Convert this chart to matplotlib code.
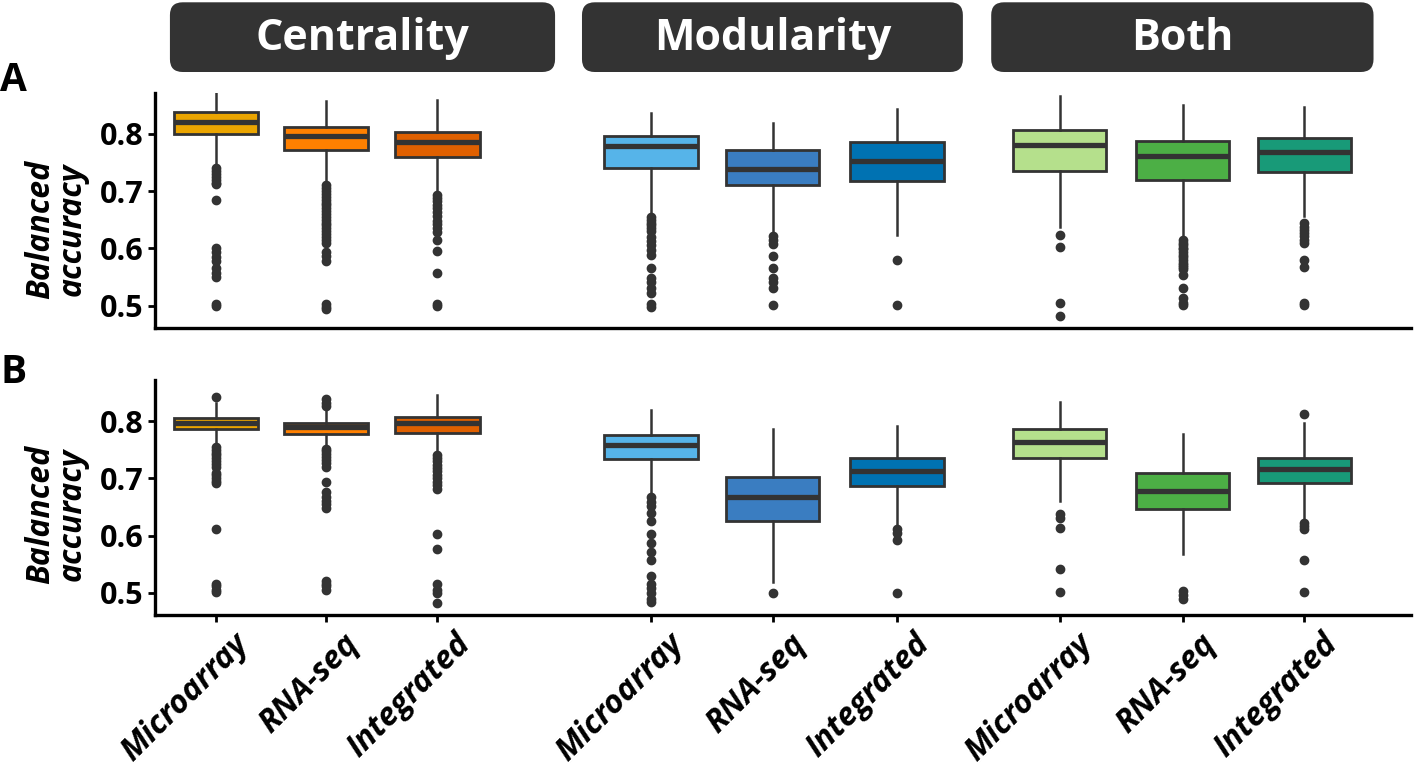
import matplotlib
matplotlib.use("Agg")
import matplotlib.pyplot as plt
from matplotlib.patches import FancyBboxPatch
from matplotlib.transforms import ScaledTranslation

plt.rcParams['font.family'] = ['Open Sans', 'DejaVu Sans']

groups = ["Centrality", "Modularity", "Both"]
platforms = ["Microarray", "RNA-seq", "Integrated"]
colors = ["#EBA500", "#FF8000", "#E06000",
          "#56B4E9", "#3A7DC1", "#0072B2",
          "#B5E08C", "#4CAF45", "#189A78"]

# panel A box stats
a_med = [0.820, 0.797, 0.786, 0.779, 0.738, 0.753, 0.780, 0.762, 0.769]
a_q1 = [0.800, 0.771, 0.760, 0.740, 0.711, 0.718, 0.736, 0.720, 0.733]
a_q3 = [0.839, 0.812, 0.804, 0.796, 0.772, 0.785, 0.807, 0.787, 0.792]
a_lo = [0.743, 0.712, 0.699, 0.662, 0.627, 0.623, 0.638, 0.621, 0.656]
a_hi = [0.872, 0.858, 0.860, 0.836, 0.819, 0.843, 0.867, 0.851, 0.847]
a_fliers = [
    [0.740, 0.735, 0.730, 0.725, 0.720, 0.715, 0.712, 0.684, 0.601, 0.593,
     0.585, 0.577, 0.566, 0.556, 0.549, 0.502, 0.500],
    [0.710, 0.705, 0.700, 0.695, 0.690, 0.685, 0.680, 0.675, 0.670, 0.665,
     0.660, 0.655, 0.650, 0.645, 0.640, 0.635, 0.630, 0.625, 0.620, 0.615,
     0.610, 0.593, 0.586, 0.578, 0.503, 0.498, 0.494],
    [0.694, 0.688, 0.682, 0.676, 0.670, 0.664, 0.656, 0.648, 0.642, 0.636,
     0.628, 0.615, 0.596, 0.557, 0.502, 0.499],
    [0.655, 0.650, 0.645, 0.640, 0.635, 0.630, 0.620, 0.613, 0.605, 0.597,
     0.588, 0.566, 0.548, 0.541, 0.530, 0.522, 0.502, 0.497],
    [0.622, 0.615, 0.608, 0.586, 0.566, 0.548, 0.542, 0.531, 0.501],
    [0.580, 0.501],
    [0.624, 0.603, 0.504, 0.482],
    [0.615, 0.610, 0.606, 0.600, 0.598, 0.593, 0.589, 0.584, 0.580, 0.575,
     0.571, 0.567, 0.563, 0.554, 0.531, 0.513, 0.505, 0.501],
    [0.644, 0.638, 0.632, 0.627, 0.621, 0.615, 0.609, 0.580, 0.568, 0.505,
     0.501],
]

# panel B box stats
b_med = [0.797, 0.789, 0.797, 0.759, 0.667, 0.713, 0.764, 0.678, 0.716]
b_q1 = [0.786, 0.777, 0.780, 0.733, 0.625, 0.687, 0.735, 0.646, 0.691]
b_q3 = [0.806, 0.797, 0.808, 0.776, 0.702, 0.735, 0.786, 0.710, 0.736]
b_lo = [0.758, 0.754, 0.743, 0.671, 0.519, 0.615, 0.661, 0.567, 0.627]
b_hi = [0.831, 0.822, 0.845, 0.819, 0.787, 0.792, 0.834, 0.777, 0.796]
b_fliers = [
    [0.843, 0.755, 0.750, 0.745, 0.740, 0.735, 0.730, 0.725, 0.720, 0.710,
     0.705, 0.700, 0.695, 0.691, 0.611, 0.516, 0.511, 0.505, 0.501],
    [0.838, 0.832, 0.826, 0.752, 0.747, 0.742, 0.737, 0.732, 0.727, 0.720,
     0.694, 0.676, 0.667, 0.661, 0.655, 0.648, 0.521, 0.516, 0.511, 0.505],
    [0.740, 0.735, 0.730, 0.724, 0.718, 0.712, 0.706, 0.700, 0.694, 0.688,
     0.682, 0.602, 0.577, 0.516, 0.505, 0.499, 0.482],
    [0.667, 0.659, 0.651, 0.640, 0.626, 0.602, 0.587, 0.572, 0.557, 0.529,
     0.516, 0.508, 0.499, 0.490, 0.484],
    [0.499],
    [0.612, 0.604, 0.592, 0.499],
    [0.637, 0.630, 0.614, 0.541, 0.501],
    [0.503, 0.496, 0.490],
    [0.813, 0.622, 0.617, 0.611, 0.557, 0.501],
]

# layout
box_pos = [0.0, 0.94, 1.89, 3.71, 4.75, 5.81, 7.2, 8.25, 9.29]
box_w = [0.72, 0.72, 0.72, 0.8, 0.8, 0.8, 0.8, 0.8, 0.8]

fig = plt.figure(figsize=(14.16, 7.66), dpi=100)
ax_a = fig.add_axes([0.1095, 0.572, 0.887, 0.307])
ax_b = fig.add_axes([0.1095, 0.197, 0.887, 0.307])

dark = "#333333"


def draw(ax, med, q1, q3, lo, hi, fl):
    stats = []
    for i in range(len(med)):
        stats.append(dict(med=med[i], q1=q1[i], q3=q3[i], whislo=lo[i],
                          whishi=hi[i], fliers=fl[i]))
    res = ax.bxp(stats, positions=box_pos, widths=box_w, patch_artist=True,
                 showcaps=False,
                 boxprops=dict(edgecolor=dark, linewidth=2.0),
                 medianprops=dict(color=dark, linewidth=3.8),
                 whiskerprops=dict(color=dark, linewidth=1.8),
                 flierprops=dict(marker='o', markersize=6, markerfacecolor=dark,
                                 markeredgecolor=dark))
    for patch, c in zip(res['boxes'], colors):
        patch.set_facecolor(c)
    ax.set_ylim(0.461, 0.872)
    ax.set_xlim(-0.52, 10.2)
    ax.set_yticks([0.5, 0.6, 0.7, 0.8])
    ax.set_yticklabels(["0.5", "0.6", "0.7", "0.8"], fontsize=22,
                       fontweight='bold')
    for s in ['top', 'right']:
        ax.spines[s].set_visible(False)
    for s in ['left', 'bottom']:
        ax.spines[s].set_linewidth(2.4)
    ax.tick_params(axis='y', length=5, width=2, pad=3)


draw(ax_a, a_med, a_q1, a_q3, a_lo, a_hi, a_fliers)
draw(ax_b, b_med, b_q1, b_q3, b_lo, b_hi, b_fliers)

ax_a.tick_params(axis='x', bottom=False, labelbottom=False)
ax_b.set_xticks(box_pos)
ax_b.set_xticklabels(platforms * 3, rotation=45, ha='right', va='top',
                     rotation_mode='anchor', fontsize=23, fontweight='bold',
                     fontstyle='italic')
ax_b.tick_params(axis='x', length=5, width=2, pad=4)
shift = ScaledTranslation(0.16, 0.0, fig.dpi_scale_trans)
for lab in ax_b.get_xticklabels():
    lab.set_transform(lab.get_transform() + shift)

# y labels
for yc in [0.70, 0.328]:
    fig.text(0.040, yc, "Balanced\naccuracy", rotation=90, ha='center',
             va='center', fontsize=23, fontweight='bold', fontstyle='italic',
             linespacing=0.95)

# panel letters
fig.text(0.0, 0.895, "A", fontsize=28, fontweight='bold', va='center')
fig.text(0.0, 0.514, "B", fontsize=28, fontweight='bold', va='center')

# header strips
head_x = [(0.120, 0.392), (0.411, 0.680), (0.700, 0.970)]
for name, (x0, x1) in zip(groups, head_x):
    p = FancyBboxPatch((x0, 0.906), x1 - x0, 0.091,
                       boxstyle="round,pad=0,rounding_size=0.009",
                       transform=fig.transFigure, facecolor=dark,
                       edgecolor='none', mutation_aspect=1.85)
    fig.patches.append(p)
    fig.text((x0 + x1) / 2, 0.950, name, color='white', fontsize=31,
             fontweight='bold', ha='center', va='center')

fig.savefig("out.png", dpi=100)
